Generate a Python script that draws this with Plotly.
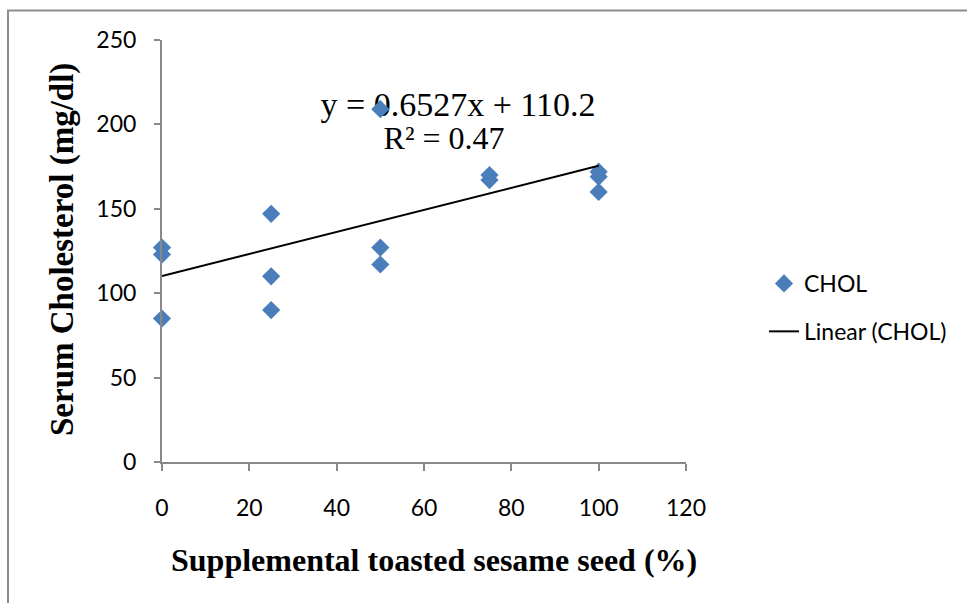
import plotly.graph_objects as go

# Data
supp_pct = [0, 0, 0, 25, 25, 25, 50, 50, 50, 75, 75, 100, 100, 100]
chol = [85, 123, 127, 147, 110, 90, 209, 127, 117, 170, 167, 172, 169, 160]
slope = 0.6527
intercept = 110.2
r2 = 0.47
trend_x = [0, 100]
x_ticks = [0, 20, 40, 60, 80, 100, 120]
y_ticks = [0, 50, 100, 150, 200, 250]

W, H = 967, 603
L, R, T, B = 162, 686, 40, 462


def px(x):
    return (x - L) / (R - L)


def py(y):
    return (B - y) / (B - T)


trend_y = [slope * v + intercept for v in trend_x]

fig = go.Figure()

# equation text (drawn beneath markers)
fig.add_trace(go.Scatter(
    x=[67.8], y=[210.3], mode="text",
    text=[f"y = {slope}x + {intercept}"],
    textfont=dict(family="Liberation Serif", size=34, color="black"),
    showlegend=False, hoverinfo="skip", cliponaxis=False,
))
fig.add_trace(go.Scatter(
    x=[64.6], y=[190.2], mode="text",
    text=[f"R² = {r2}"],
    textfont=dict(family="Liberation Serif", size=32, color="black"),
    showlegend=False, hoverinfo="skip", cliponaxis=False,
))

fig.add_trace(go.Scatter(
    x=supp_pct, y=chol, mode="markers", name="CHOL",
    marker=dict(symbol="diamond", size=14, color="#4a7ebb"),
    cliponaxis=False, legendgroup="a",
))

fig.add_trace(go.Scatter(
    x=trend_x, y=trend_y, mode="lines", name="Linear (CHOL)",
    line=dict(color="black", width=2),
    cliponaxis=False, legendgroup="b",
))

axis_col = "#898989"
tick_font = dict(family="Lato", size=23, color="black")

fig.update_layout(
    width=W, height=H,
    margin=dict(l=L, r=W - R, t=T, b=H - B, pad=0),
    paper_bgcolor="white", plot_bgcolor="white",
    showlegend=True,
    legend=dict(
        x=px(764), y=py(262), xanchor="left", yanchor="top",
        font=dict(family="Lato", size=23, color="black"),
        traceorder="grouped", tracegroupgap=15,
        bgcolor="rgba(0,0,0,0)", borderwidth=0,
    ),
    xaxis=dict(
        range=[0, 120], tickvals=x_ticks, showgrid=False, zeroline=False,
        showline=True, linecolor=axis_col, linewidth=2,
        ticks="outside", ticklen=7, tickwidth=2, tickcolor=axis_col,
        tickfont=tick_font, ticklabelstandoff=17,
    ),
    yaxis=dict(
        range=[0, 250], tickvals=y_ticks, showgrid=False, zeroline=False,
        showline=True, linecolor=axis_col, linewidth=2,
        ticks="outside", ticklen=6, tickwidth=2, tickcolor=axis_col,
        tickfont=tick_font, ticklabelstandoff=13,
    ),
    annotations=[
        dict(text="<b>Supplemental toasted sesame seed (%)</b>", xref="paper", yref="paper",
             x=px(434), y=py(560), showarrow=False, xanchor="center", yanchor="middle",
             font=dict(family="Liberation Serif", size=32, color="black")),
        dict(text="<b>Serum Cholesterol (mg/dl)</b>", xref="paper", yref="paper",
             x=px(62), y=py(250), showarrow=False, textangle=-90,
             xanchor="center", yanchor="middle",
             font=dict(family="Liberation Serif", size=33, color="black")),
    ],
    shapes=[
        dict(type="line", xref="paper", yref="paper", x0=px(7), x1=px(967),
             y0=py(10.5), y1=py(10.5), line=dict(color="#8c8c8c", width=2)),
        dict(type="line", xref="paper", yref="paper", x0=px(8), x1=px(8),
             y0=py(10.5), y1=py(603), line=dict(color="#8c8c8c", width=2)),
    ],
)

fig.write_html("out.html")
